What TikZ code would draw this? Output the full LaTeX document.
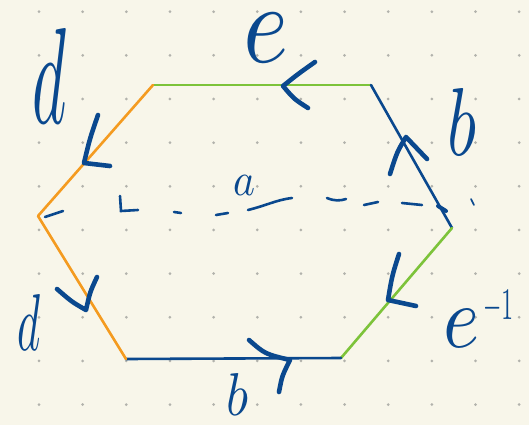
\documentclass[tikz,border=0pt]{standalone}
\usepackage{graphicx}
\definecolor{paper}{RGB}{248,246,234}
\definecolor{ink}{RGB}{10,72,142}
\definecolor{leaf}{RGB}{125,195,58}
\definecolor{amber}{RGB}{244,155,32}
\definecolor{dotgray}{RGB}{178,178,172}
\tikzset{
  side/.style={line width=2.6pt, line cap=round},
  chev/.style={draw=ink, line width=4.6pt, line cap=round, line join=round},
  pen/.style={draw=ink, line width=2.6pt, line cap=round},
  lbl/.style={text=ink, inner sep=0pt},
}
\newcommand{\hand}[3]{\resizebox{#1pt}{#2pt}{$#3$}}

\begin{document}
\begin{tikzpicture}[x=1pt, y=-1pt]
    \fill[paper] (0,0) rectangle (529,425);
    \useasboundingbox (0,0) rectangle (529,425);

    % dotted paper
    \foreach \i in {0,...,11}
        \foreach \j in {0,...,9}
            \fill[dotgray] (39+43.65*\i, 11.7+43.65*\j) circle[radius=1.5];

    \coordinate (TL) at (153,85);
    \coordinate (TR) at (371,85);
    \coordinate (R)  at (452,228);
    \coordinate (BR) at (341,358);
    \coordinate (BL) at (126,359);
    \coordinate (L)  at (38,216);

    \draw[side, leaf]  (TL) -- (TR);
    \draw[side, ink]   (TR) -- (R);
    \draw[side, leaf]  (R) -- (BR);
    \draw[side, ink]   (BR) -- (BL);
    \draw[side, amber] (BL) -- (L);
    \draw[side, amber] (L) -- (TL);

    % direction marks on the sides
    \draw[chev] (315,62) .. controls (298,74) .. (283,86) .. controls (294,99) .. (308,108);
    \draw[chev] (390,174) .. controls (397,152) .. (406,137) .. controls (416,148) .. (427,159);
    \draw[chev] (98,115) .. controls (90,138) .. (84,163) -- (110,166);
    \draw[chev] (57,289) .. controls (72,302) .. (86,310) .. controls (90,292) .. (97,277);
    \draw[chev] (399,254) .. controls (392,276) .. (388,300) -- (416,306);
    \draw[chev] (249,340) .. controls (265,354) .. (290,360) .. controls (282,376) .. (279,392);

    % the cut a, drawn in broken strokes
    \draw[pen] (45,217) -- (63,211);
    \draw[pen] (120,196) -- (121,211) -- (138,210);
    \draw[pen] (174,212) -- (181,213);
    \draw[pen] (216,215) -- (228,213);
    \draw[pen] (248,210) .. controls (268,205) and (276,200) .. (292,198);
    \draw[pen] (327,198) .. controls (334,201) and (340,201) .. (346,199);
    \draw[pen] (364,205) -- (378,202);
    \draw[pen] (402,203) -- (422,205);
    \draw[pen, line width=4pt] (438,206) -- (446,211);
    \draw[pen, line width=1.6pt] (471,199) -- (474,205);

    % labels
    \node[lbl] (e)  at (265.5,37.5) {\hand{45}{49}{e}};
    \node[lbl] (d1) at (50,75.5)    {\hand{34}{95}{d}};
    \node[lbl] (b1) at (461.5,121.5){\hand{29}{67}{b}};
    \node[lbl] (a)  at (244,185)    {\hand{22}{20}{a}};
    \node[lbl] (d2) at (29.5,322)   {\hand{23}{56}{d}};
    \node[lbl] (b2) at (237,394)    {\hand{22}{42}{b}};
    \node[lbl] (ei) at (478,318.5)
        {\hand{36}{38}{e}\hspace{4pt}\raisebox{28pt}{\hand{30}{29}{-1}}};
\end{tikzpicture}
\end{document}
